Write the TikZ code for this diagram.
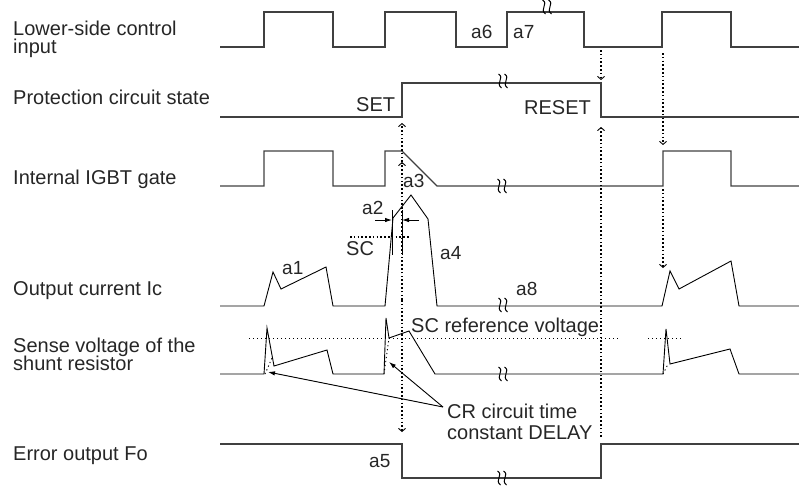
\documentclass[tikz,border=0pt]{standalone}
\usepackage{fontspec}
\setmainfont{Liberation Sans}
\usetikzlibrary{arrows.meta}
\setlength{\lineskiplimit}{-30pt}
\begin{document}
\begin{tikzpicture}[x=1pt,y=-1pt,
  wave/.style={line width=1.1pt, draw=black!75, line join=miter},
  ana/.style={line width=0.9pt, draw=black, line join=miter},
  dotarr/.style={line width=1.6pt, draw=black, dash pattern=on 1.6pt off 2.2pt,
     -{Straight Barb[length=3pt,width=7pt,line width=0.9pt]}},
  dotln/.style={line width=1.6pt, draw=black, dash pattern=on 1.6pt off 2.2pt},
  thindot/.style={line width=0.9pt, draw=black, dash pattern=on 1.2pt off 2.8pt},
  solidarr/.style={line width=0.9pt, draw=black, -{Latex[length=7pt,width=4.5pt]}},
  lbl/.style={font=\fontsize{20}{22}\selectfont, anchor=base west, inner sep=0pt, text=black!85},
  twoline/.style={lbl, align=left, font=\fontsize{20}{18}\selectfont},
  twolinecr/.style={lbl, align=left, font=\fontsize{20}{20.5}\selectfont},
  albl/.style={lbl, font=\fontsize{19}{21}\selectfont},
  brk/.pic={
    \draw[line width=1pt, black] (-4.5,-7) .. controls (2,-3) and (-8,2) .. (-1.5,7);
    \draw[line width=1pt, black] (1.5,-7) .. controls (8,-3) and (-2,2) .. (4.5,7);
  }]
\useasboundingbox (0,0) rectangle (799,485);

% left labels (multi-line nodes: base = last line's baseline)
\node[twoline] (l1) at (13,53) {Lower-side control\\input};
\node[lbl] (l2) at (13,104) {Protection circuit state};
\node[lbl] (l3) at (13,184) {Internal IGBT gate};
\node[lbl] (l4) at (13,295) {Output current Ic};
\node[twoline] (l5) at (13,370) {Sense voltage of the\\shunt resistor};
\node[lbl] (l6) at (13,460) {Error output Fo};

% row 1: control input
\draw[wave] (220,47) -| (264,12) -| (333,47) -| (385,12) -| (456,47) -| (507,12)
  -| (584,47) -| (662,12) -| (731,47) -- (799,47);
% row 2: protection state
\draw[wave] (220,117) -| (402,83) -| (601,117) -- (799,117);
% row 3: gate
\draw[wave] (220,186) -| (264,151) -| (333,186) -| (385,151) -- (402,151) -- (437,186)
  -| (663,151) -| (731,186) -- (799,186);
% row 4: output current
\draw[ana] (220,306) -- (264,306) -- (273,272) -- (281,289) -- (326,267) -- (333,306)
  -- (385,306) -- (393,218) -- (411,195) -- (428,219) -- (437,306)
  -- (662,306) -- (670,271) -- (679,289) -- (731,261) -- (739,306) -- (799,306);
% row 5: sense voltage
\draw[ana] (220,374) -- (264,374) -- (267,328) -- (274,366) -- (327,350) -- (333,374)
  -- (384,374) -- (386,318) -- (389,338) -- (409,331) -- (435,374)
  -- (663,374) -- (666,329) -- (670,364) -- (730,349) -- (739,374) -- (799,374);
\draw[thindot] (265,374) -- (272,358);
\draw[thindot] (384,374) -- (389,338);
\draw[thindot] (663,374) -- (668,364);
% row 6: error output
\draw[wave] (220,444) -| (402,478) -| (601,444) -- (799,444);

% breaks
\pic at (547,7) {brk};
\pic at (503,81) {brk};
\pic at (502,186) {brk};
\pic at (503,305) {brk};
\pic at (503,374) {brk};
\pic at (502,478) {brk};

% SC reference line
\draw[thindot] (249,338) -- (618,338);
\draw[thindot] (648,338) -- (682,338);
\node[lbl] (scref) at (411,332) {SC reference voltage};

% trigger dotted arrows at x=402
\coordinate (trg) at (402,300);
\coordinate (pset) at (402,123);
\coordinate (goff) at (402,162);
\coordinate (foset) at (402,432);
\draw[dotarr] (trg) -- (goff);
\draw[dotarr] (goff) -- (pset);
\draw[dotarr] (trg) -- (foset);

% reset dotted arrows at x=601
\coordinate (cin) at (601,50);
\coordinate (preset) at (601,80);
\coordinate (prlow) at (601,127);
\coordinate (forise) at (601,437);
\draw[dotarr] (cin) -- (preset);
\draw[dotarr] (forise) -- (prlow);

% restart dotted arrows at x=663
\coordinate (cin2) at (663,53);
\coordinate (gon) at (663,145);
\coordinate (glow) at (663,189);
\coordinate (irise) at (663,268);
\draw[dotarr] (cin2) -- (gon);
\draw[dotarr] (glow) -- (irise);

% a2 / SC detail
\coordinate (sc1) at (350,237);
\coordinate (sc2) at (409,237);
\draw[dotln] (sc1) -- (sc2);
\coordinate (v1t) at (392,210);
\coordinate (v1b) at (392,255);
\coordinate (v2t) at (402,210);
\coordinate (v2b) at (402,255);
\draw[line width=0.8pt] (v1t) -- (v1b);
\draw[line width=0.8pt] (v2t) -- (v2b);
\coordinate (a2l) at (375,220);
\coordinate (a2lt) at (392,220);
\coordinate (a2r) at (419,220);
\coordinate (a2rt) at (402,220);
\draw[solidarr] (a2l) -- (a2lt);
\draw[solidarr] (a2r) -- (a2rt);

% small labels
\node[albl] (ta1) at (282,274) {a1};
\node[albl] (ta2) at (362,214) {a2};
\node[albl] (ta3) at (403,187) {a3};
\node[albl] (ta4) at (440,259) {a4};
\node[albl] (ta5) at (369,467) {a5};
\node[albl] (ta6) at (471,38) {a6};
\node[albl] (ta7) at (513,38) {a7};
\node[albl] (ta8) at (516,295) {a8};
\node[lbl] (tsc) at (346,255) {SC};
\node[lbl] (tset) at (356,111) {SET};
\node[lbl] (treset) at (524,114) {RESET};

% CR delay label and arrows
\node[twolinecr] (cr) at (447,439) {CR circuit time\\constant DELAY};
\coordinate (cro) at (443,407);
\coordinate (sp1) at (268,372);
\coordinate (sp2) at (389,362);
\draw[solidarr] (cro) -- (sp1);
\draw[solidarr] (cro) -- (sp2);
\end{tikzpicture}
\end{document}
